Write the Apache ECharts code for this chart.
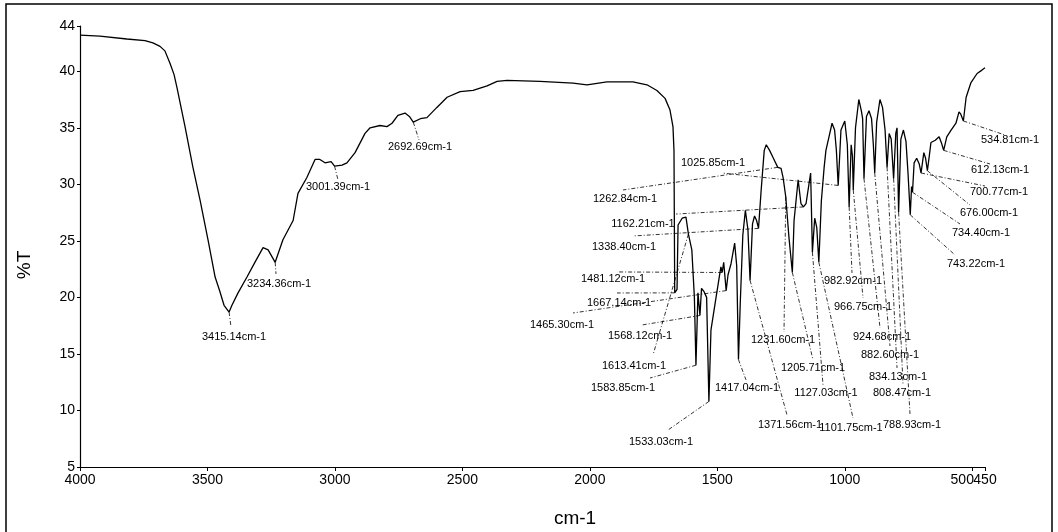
<!DOCTYPE html>
<html>
<head>
<meta charset="utf-8">
<script src="https://cdn.jsdelivr.net/npm/echarts@6/dist/echarts.min.js"></script>
<style>
  html, body { margin: 0; padding: 0; background: #fff; }
  #chart { width: 1058px; height: 532px; }
</style>
</head>
<body>
<div id="chart"></div>
<script>
// IR transmission spectrum (%T against wavenumber, cm-1)
const wavenumber = [
  4000, 3922, 3816, 3745, 3714, 3686, 3667, 3647, 3631, 3620, 3588, 3557, 3529, 3498, 3470, 3451, 3435,
  3415.14, 3404, 3380, 3345, 3314, 3282, 3262, 3234.36, 3204, 3164, 3145, 3110, 3078, 3059, 3039, 3015,
  3001.39, 2972, 2953, 2921, 2882, 2862, 2823, 2796, 2776, 2753, 2725, 2708, 2692.69, 2665, 2639, 2600,
  2560, 2509, 2458, 2403, 2364, 2325, 2196, 2066, 2011, 1933, 1831, 1776, 1737, 1705, 1686, 1674, 1670,
  1667.14, 1658, 1654, 1638, 1623, 1613.41, 1600, 1590, 1583.85, 1576, 1568.12, 1562, 1552, 1542,
  1533.03, 1525, 1505, 1486, 1481.12, 1475, 1465.30, 1458, 1446, 1432, 1424, 1417.04, 1410, 1400, 1390,
  1380, 1371.56, 1362, 1354, 1346, 1338.40, 1328, 1316, 1308, 1295, 1282, 1262.84, 1250, 1242, 1231.60,
  1219, 1205.71, 1199, 1183, 1172, 1162.21, 1152, 1134, 1127.03, 1118, 1110, 1101.75, 1092, 1081, 1074,
  1062, 1050, 1040, 1033, 1025.85, 1015, 1000, 990, 982.92, 975, 970, 966.75, 958, 945, 935, 930, 924.68,
  915, 905, 895, 888, 882.60, 875, 862, 852, 842, 834.13, 826, 818, 808.47, 800, 795, 788.93, 780, 770,
  760, 752, 743.22, 738, 734.40, 728, 718, 708, 700.77, 690, 683, 676.00, 668, 662, 645, 630, 620, 612.13,
  600, 583, 564, 552, 545, 534.81, 524, 505, 481, 462, 450
];
const transmittance = [
  43.2, 43.1, 42.85, 42.7, 42.5, 42.2, 41.8, 40.7, 39.7, 38.6, 35.1, 31.5, 28.6, 25.1, 21.8, 20.5, 19.3,
  18.7, 19.3, 20.4, 21.8, 23.1, 24.4, 24.2, 23.1, 25.1, 26.8, 29.2, 30.6, 32.2, 32.2, 31.9, 32.0,
  31.6, 31.7, 31.9, 32.8, 34.5, 35.0, 35.2, 35.1, 35.4, 36.1, 36.3, 36.0, 35.5, 35.8, 35.9, 36.8,
  37.7, 38.2, 38.3, 38.7, 39.1, 39.2, 39.1, 38.95, 38.8, 39.05, 39.05, 38.8, 38.3, 37.6, 36.6, 35.1, 33.0,
  20.4, 20.7, 26.4, 27.0, 27.1, 25.6, 24.2, 20.0, 14.0, 20.4, 18.4, 20.8, 20.5, 20.0,
  10.8, 17.1, 20.0, 22.7, 22.2, 23.1, 20.6, 22.0, 23.0, 24.8, 22.8, 14.5, 19.5, 25.5, 27.7,
  26.0, 21.5, 26.5, 27.2, 26.8, 26.1, 29.5, 33.0, 33.5, 33.0, 32.4, 31.5, 31.4, 30.6, 28.9,
  25.3, 22.2, 26.8, 30.4, 28.3, 28.0, 28.3, 31.0, 24.0, 27.0, 26.2, 23.1, 28.5, 31.5, 33.0,
  34.2, 35.4, 34.8, 33.0, 29.9, 34.8, 35.6, 33.5, 28.0, 33.5, 32.5, 29.5, 35.0, 37.5, 36.5, 35.8, 30.5,
  36.0, 36.5, 35.8, 33.5, 31.0, 35.5, 37.5, 36.8, 34.8, 31.5, 34.5, 34.0, 30.5, 34.5, 35.0, 27.5, 34.0, 34.8,
  33.8, 31.0, 27.3, 29.8, 29.3, 31.9, 32.3, 31.8, 31.0, 32.8, 32.3, 31.2, 32.6, 33.7, 33.9, 34.2, 33.6, 33.0,
  34.2, 34.8, 35.4, 36.4, 36.2, 35.6, 37.7, 39.0, 39.8, 40.1, 40.3
];

// Picked bands (cm-1), written beside the trace with leader lines
const peakWavenumbers = [
  3415.14, 3234.36, 3001.39, 2692.69, 1025.85, 1262.84, 1162.21, 1338.40, 1481.12, 1667.14, 1465.30,
  1568.12, 1613.41, 1583.85, 1533.03, 1417.04, 1371.56, 1231.60, 1205.71, 1127.03, 1101.75, 982.92,
  966.75, 924.68, 882.60, 834.13, 808.47, 788.93, 743.22, 734.40, 676.00, 700.77, 612.13, 534.81
];
// Where each leader line ends [cm-1, %T]
const leaderEnds = [
  [3407.7, 17.38], [3231.1, 22.07], [2987.9, 30.38], [2670.2, 33.92], [1481.6, 31.0], [1869.9, 29.5],
  [1662.0, 27.37], [1830.8, 25.43], [1893.5, 22.25], [1893.5, 20.39], [2066.1, 18.62], [1795.4, 17.56],
  [1752.3, 14.91], [1764.1, 12.87], [1693.4, 8.27], [1387.5, 12.7], [1226.6, 9.6], [1238.4, 16.94],
  [1124.6, 14.46], [1085.4, 12.25], [967.8, 9.33], [971.7, 22.16], [928.5, 19.95], [861.8, 17.29],
  [822.6, 15.7], [795.1, 13.76], [771.6, 12.34], [744.2, 9.69], [567.6, 23.75], [548.0, 26.49],
  [508.8, 28.17], [449.9, 29.85], [430.3, 31.8], [371.5, 34.36]
];
// Centre of each band caption [cm-1, %T]
const captionAt = [
  [3395.9, 16.5], [3219.4, 21.18], [2987.9, 29.76], [2666.3, 33.3], [1516.9, 31.88], [1862.1, 28.7],
  [1791.5, 26.49], [1866.0, 24.46], [1909.2, 21.63], [1885.7, 19.5], [2109.3, 17.56], [1803.3, 16.59],
  [1826.8, 13.93], [1870.0, 11.99], [1720.9, 7.21], [1383.6, 11.99], [1214.9, 8.72], [1242.3, 16.23],
  [1124.6, 13.76], [1073.6, 11.54], [975.6, 8.45], [967.8, 21.45], [928.5, 19.15], [853.9, 16.5],
  [822.6, 14.91], [791.2, 12.96], [775.5, 11.54], [736.3, 8.72], [485.2, 22.95], [465.6, 25.69],
  [434.2, 27.46], [394.9, 29.32], [391.0, 31.27], [351.9, 33.92]
];

const xTicks = [4000, 3500, 3000, 2500, 2000, 1500, 1000, 500];
const xEndTick = [450];
const yTicks = [5, 10, 15, 20, 25, 30, 35, 40, 44];

// %T on the trace at a given wavenumber (trace is stored high to low)
function transmittanceAt(w) {
  for (let i = 0; i < wavenumber.length - 1; i++) {
    const a = wavenumber[i], b = wavenumber[i + 1];
    if (w <= a && w >= b) {
      const t = (a - w) / (a - b);
      return transmittance[i] + t * (transmittance[i + 1] - transmittance[i]);
    }
  }
  return transmittance[transmittance.length - 1];
}

const spectrum = wavenumber.map((w, i) => [w, transmittance[i]]);
const captionFont = '11px "Liberation Sans", Arial, sans-serif';
const axisFont = '"Liberation Sans", Arial, sans-serif';

const chart = echarts.init(document.getElementById('chart'), null, { renderer: 'canvas' });

chart.setOption({
  animation: false,
  backgroundColor: '#fff',
  grid: { left: 80, right: 73, top: 26, bottom: 65 },
  xAxis: [
    {
      type: 'value',
      min: 450,
      max: 4000,
      inverse: true,
      splitLine: { show: false },
      axisLine: { lineStyle: { color: '#000', width: 1.2 } },
      axisTick: { customValues: xTicks, length: 4, lineStyle: { color: '#000' } },
      axisLabel: {
        customValues: xTicks,
        showMinLabel: true,
        showMaxLabel: true,
        color: '#000',
        fontSize: 14,
        fontFamily: axisFont,
        margin: 6,
        formatter: v => (v === 500 ? '{l|500}' : String(v)),
        rich: { l: { fontSize: 14, fontFamily: axisFont, color: '#000', padding: [0, 20, 0, 0] } }
      }
    },
    {
      // closing tick of the range, labelled on its own
      type: 'value',
      min: 450,
      max: 4000,
      inverse: true,
      position: 'bottom',
      splitLine: { show: false },
      axisLine: { show: false },
      axisTick: { show: true, customValues: xEndTick, length: 4, lineStyle: { color: '#000' } },
      axisLabel: {
        customValues: xEndTick,
        showMinLabel: true,
        showMaxLabel: true,
        color: '#000',
        fontSize: 14,
        fontFamily: axisFont,
        margin: 6
      }
    }
  ],
  yAxis: {
    type: 'value',
    min: 5,
    max: 44,
    splitLine: { show: false },
    axisLine: { show: true, lineStyle: { color: '#000', width: 1.2 } },
    axisTick: { show: true, customValues: yTicks, length: 3, lineStyle: { color: '#000' } },
    axisLabel: {
      customValues: yTicks,
      showMinLabel: true,
      showMaxLabel: true,
      color: '#000',
      fontSize: 14,
      fontFamily: axisFont,
      margin: 5
    }
  },
  graphic: [
    {
      type: 'rect',
      shape: { x: 6, y: 4, width: 1046, height: 540 },
      style: { fill: 'none', stroke: '#000', lineWidth: 1.5 },
      silent: true
    },
    {
      type: 'text',
      x: 575, y: 519,
      style: { text: 'cm-1', fill: '#000', font: '19px "Liberation Sans", Arial, sans-serif', align: 'center', verticalAlign: 'middle' }
    },
    {
      type: 'text',
      x: 25, y: 265,
      rotation: Math.PI / 2,
      style: { text: '%T', fill: '#000', font: '19px "Liberation Sans", Arial, sans-serif', align: 'center', verticalAlign: 'middle' }
    }
  ],
  series: [
    {
      name: 'Transmittance',
      type: 'line',
      xAxisIndex: 0,
      data: spectrum,
      showSymbol: false,
      smooth: false,
      lineStyle: { color: '#000', width: 1.3 },
      z: 3
    },
    {
      name: 'Band labels',
      type: 'custom',
      xAxisIndex: 0,
      clip: false,
      data: peakWavenumbers.map((w, i) => [w, i]),
      renderItem: function (params, api) {
        const i = api.value(1);
        const w = peakWavenumbers[i];
        const tip = api.coord([w, transmittanceAt(w)]);
        const end = api.coord(leaderEnds[i]);
        const at = api.coord(captionAt[i]);
        return {
          type: 'group',
          children: [
            {
              type: 'polyline',
              shape: { points: [tip, end] },
              style: { stroke: '#000', lineWidth: 0.8, lineDash: [4, 2, 1, 2], fill: null }
            },
            {
              type: 'text',
              x: at[0], y: at[1],
              style: { text: w.toFixed(2) + 'cm-1', font: captionFont, fill: '#000', align: 'center', verticalAlign: 'middle' }
            }
          ]
        };
      },
      z: 2
    }
  ]
});
</script>
</body>
</html>
